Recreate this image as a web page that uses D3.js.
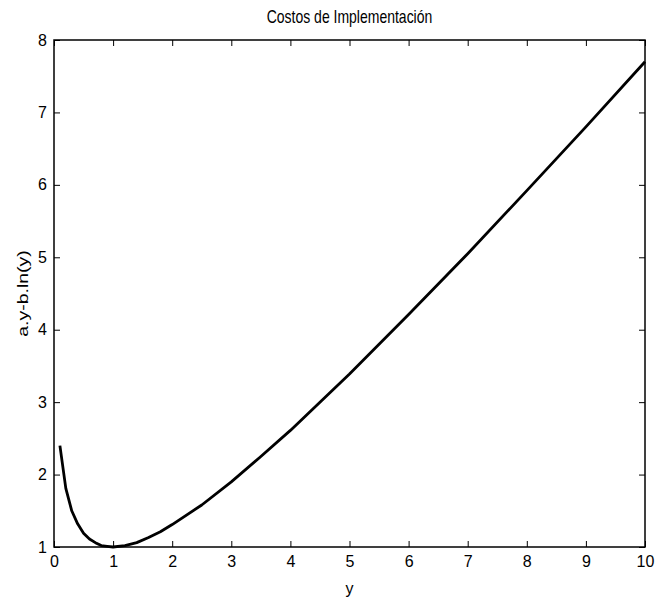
<!DOCTYPE html>
<html>
<head>
<meta charset="utf-8">
<script src="https://cdn.jsdelivr.net/npm/d3@7"></script>
<style>
	body { margin: 0; background: #fff; }
	svg { font-family: 'Liberation Sans', Arial, sans-serif; }
	.axis text { font-size: 16px; fill: #000; font-family: 'Liberation Sans', Arial, sans-serif; }
	.axis line { stroke: #000; }
</style>
</head>
<body>
<svg id="chart" width="655" height="599"></svg>
<script>
// values
const yValues = [0.1, 0.2, 0.3, 0.4, 0.5, 0.6, 0.7, 0.8, 0.9, 1.0, 1.2, 1.4, 1.6, 1.8, 2.0, 2.5, 3, 3.5, 4, 4.5, 5, 6, 7, 8, 9, 10];
const costValues = [2.40, 1.81, 1.50, 1.32, 1.19, 1.11, 1.06, 1.02, 1.01, 1.00, 1.02, 1.06, 1.13, 1.21, 1.31, 1.58, 1.90, 2.25, 2.61, 3.00, 3.39, 4.21, 5.05, 5.92, 6.80, 7.70];
const xTicks = [0, 1, 2, 3, 4, 5, 6, 7, 8, 9, 10];
const yTicks = [1, 2, 3, 4, 5, 6, 7, 8];

const margin = { top: 40, right: 10, bottom: 52, left: 54 };
const width = 655;
const height = 599;

const svg = d3.select('#chart');

const xScale = d3.scaleLinear().domain([0, 10]).range([margin.left, width - margin.right]);
const yScale = d3.scaleLinear().domain([1, 8]).range([height - margin.bottom, margin.top]);

const data = yValues.map((y, i) => ({ y: y, c: costValues[i] }));

// box
svg.append('rect')
	.attr('x', xScale(0))
	.attr('y', yScale(8))
	.attr('width', xScale(10) - xScale(0))
	.attr('height', yScale(1) - yScale(8))
	.attr('fill', 'none')
	.attr('stroke', '#000')
	.attr('stroke-width', 1.5);

//ticks on all four sides, pointing inwards
const bottomAxis = svg.append('g')
	.attr('class', 'axis')
	.attr('transform', `translate(0,${yScale(1)})`)
	.call(d3.axisBottom(xScale).tickValues(xTicks).tickSizeInner(-6).tickSizeOuter(0).tickPadding(9).tickFormat(d3.format('d')));
bottomAxis.select('.domain').remove();

const topAxis = svg.append('g')
	.attr('class', 'axis')
	.attr('transform', `translate(0,${yScale(8)})`)
	.call(d3.axisTop(xScale).tickValues(xTicks).tickSizeInner(-6).tickSizeOuter(0).tickFormat(''));
topAxis.select('.domain').remove();

const leftAxis = svg.append('g')
	.attr('class', 'axis')
	.attr('transform', `translate(${xScale(0)},0)`)
	.call(d3.axisLeft(yScale).tickValues(yTicks).tickSizeInner(-6).tickSizeOuter(0).tickPadding(7).tickFormat(d3.format('d')));
leftAxis.select('.domain').remove();

const rightAxis = svg.append('g')
	.attr('class', 'axis')
	.attr('transform', `translate(${xScale(10)},0)`)
	.call(d3.axisRight(yScale).tickValues(yTicks).tickSizeInner(-6).tickSizeOuter(0).tickFormat(''));
rightAxis.select('.domain').remove();

// the curve
const makeLinePath = d3.line()
	.x(d => xScale(d.y))
	.y(d => yScale(d.c));

svg.append('path')
	.datum(data)
	.attr('fill', 'none')
	.attr('stroke', '#000')
	.attr('stroke-width', 2.8)
	.attr('stroke-linejoin', 'round')
	.attr('d', makeLinePath);

// labels (the original export is a bit stretched vertically)
svg.append('text')
	.attr('transform', `translate(${(xScale(0) + xScale(10)) / 2},23) scale(1,1.3)`)
	.style('text-anchor', 'middle')
	.style('font-size', '14px')
	.text('Costos de Implementación');

svg.append('text')
	.attr('x', (xScale(0) + xScale(10)) / 2)
	.attr('y', 594)
	.style('text-anchor', 'middle')
	.style('font-size', '16px')
	.text('y');

svg.append('text')
	.attr('transform', `translate(28,${(yScale(1) + yScale(8)) / 2}) scale(1,1.3) rotate(-90)`)
	.style('text-anchor', 'middle')
	.style('font-size', '15px')
	.text('a.y-b.ln(y)');
</script>
</body>
</html>
